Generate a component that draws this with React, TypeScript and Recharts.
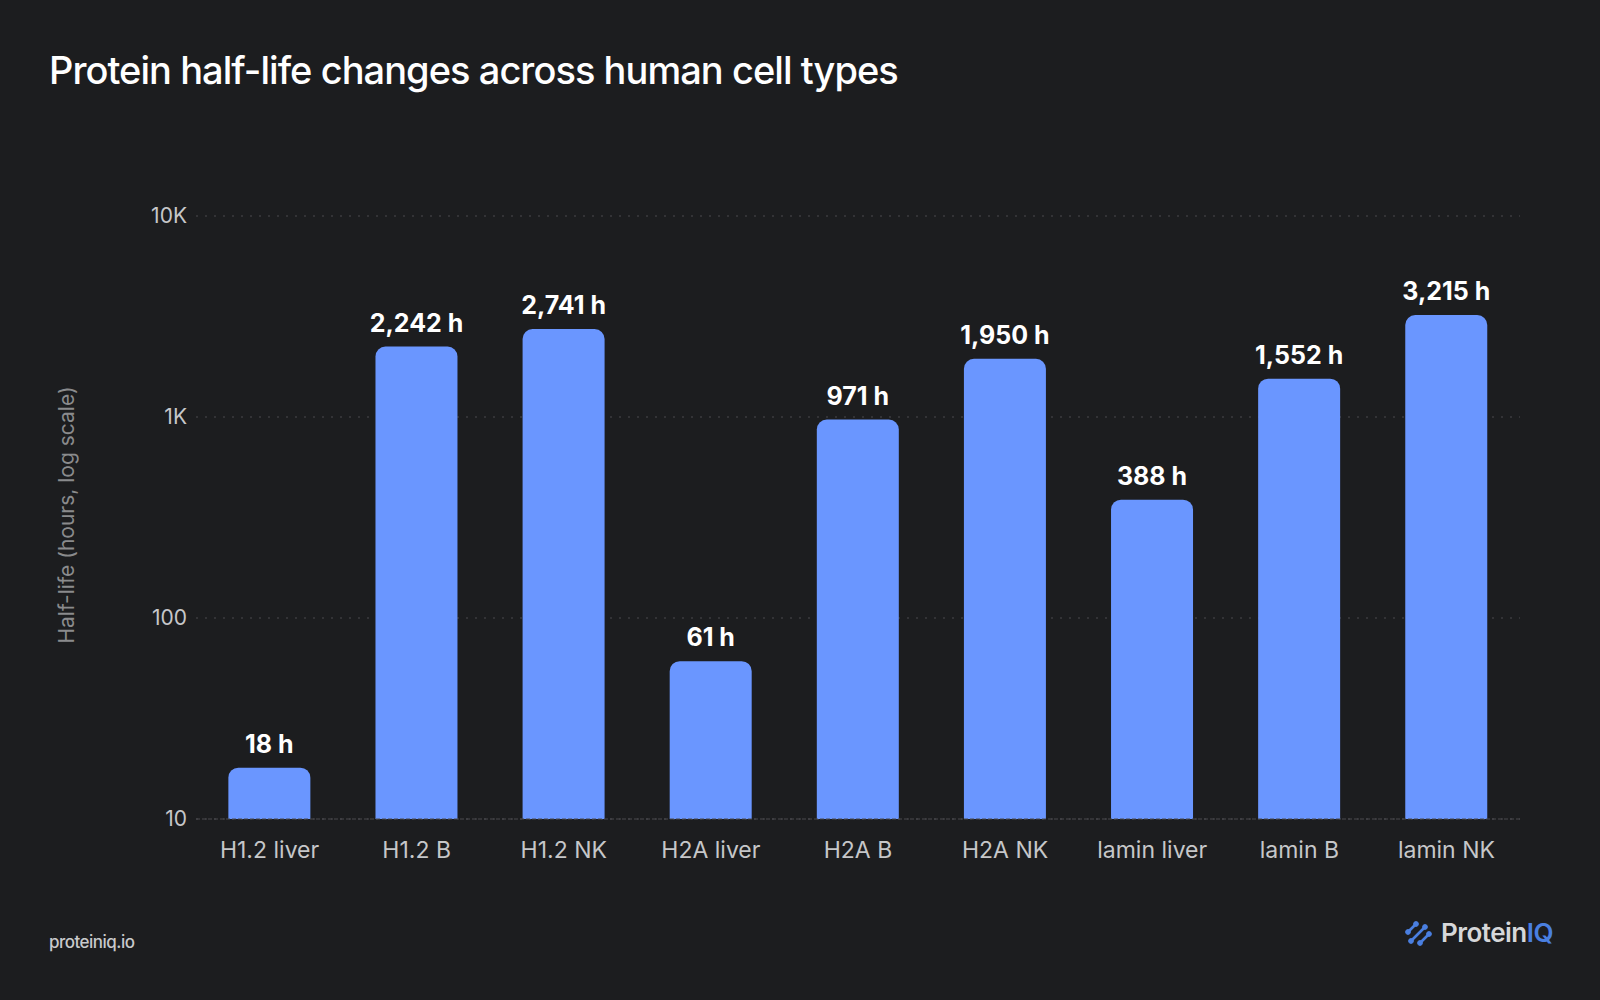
import React from 'react';
import { BarChart, Bar, XAxis, YAxis, CartesianGrid, LabelList } from 'recharts';

const categories = [
  'H1.2 liver',
  'H1.2 B',
  'H1.2 NK',
  'H2A liver',
  'H2A B',
  'H2A NK',
  'lamin liver',
  'lamin B',
  'lamin NK',
];

const halfLifeHours = [18, 2242, 2741, 61, 971, 1950, 388, 1552, 3215];

const yTicks = [10, 100, 1000, 10000];

const data = categories.map((name, i) => ({ name, value: halfLifeHours[i] }));

const FONT = 'Inter, "Noto Sans", sans-serif';
const BG = '#1c1d1f';
const BAR = '#6a96ff';

const formatTick = (v: number) => (v >= 1000 ? `${v / 1000}K` : `${v}`);
const formatValue = (v: number) => `${v.toLocaleString('en-US')} h`;

// small decorative mark next to the brand name
const LogoMark = () => (
  <svg width="28" height="28" viewBox="0 0 28 28">
    {[
      [3, 13, 11, 5],
      [6, 22, 20, 8],
      [15, 24, 24, 15],
    ].map(([x1, y1, x2, y2], i) => (
      <g key={i} stroke="#4a7fe0" fill="#4a7fe0">
        <line x1={x1} y1={y1} x2={x2} y2={y2} strokeWidth={2.6} strokeLinecap="round" />
        <circle cx={x1} cy={y1} r={2.4} />
        <circle cx={x2} cy={y2} r={2.4} />
      </g>
    ))}
  </svg>
);

export default function App() {
  return (
    <div
      style={{
        position: 'absolute',
        top: 0,
        left: 0,
        width: 1600,
        height: 1000,
        background: BG,
        fontFamily: FONT,
        overflow: 'hidden',
      }}
    >
      {/* Title */}
      <div
        style={{
          position: 'absolute',
          left: 49,
          top: 47,
          fontSize: 38,
          fontWeight: 500,
          letterSpacing: '-0.025em',
          color: '#ffffff',
          whiteSpace: 'nowrap',
        }}
      >
        Protein half-life changes across human cell types
      </div>

      {/* Y axis title */}
      <div
        style={{
          position: 'absolute',
          left: 66,
          top: 515,
          transform: 'translate(-50%, -50%) rotate(-90deg)',
          fontSize: 21,
          color: '#8a8b8d',
          whiteSpace: 'nowrap',
        }}
      >
        Half-life (hours, log scale)
      </div>

      <div style={{ position: 'absolute', left: 0, top: 0 }}>
        <BarChart
          width={1600}
          height={1000}
          data={data}
          margin={{ top: 216, right: 80, left: 0, bottom: 141 }}
          barCategoryGap="22%"
        >
          <CartesianGrid vertical={false} stroke="#4a4b4e" strokeDasharray="2 7" />
          <XAxis
            dataKey="name"
            height={40}
            tickLine={false}
            axisLine={{ stroke: '#4a4b4e', strokeDasharray: '4 2' }}
            tick={{ fill: '#c6c7c9', fontSize: 23, fontFamily: FONT }}
            tickMargin={17}
            interval={0}
          />
          <YAxis
            width={196}
            scale="log"
            domain={[10, 10000]}
            ticks={yTicks}
            allowDataOverflow
            tickFormatter={formatTick}
            tickLine={false}
            axisLine={false}
            tick={{ fill: '#c6c7c9', fontSize: 21, fontFamily: FONT }}
            tickMargin={3}
          />
          <Bar dataKey="value" fill={BAR} radius={[10, 10, 0, 0]} isAnimationActive={false}>
            <LabelList
              dataKey="value"
              position="top"
              offset={15}
              formatter={formatValue}
              fill="#ffffff"
              style={{ fontSize: 25, fontWeight: 700, fontFamily: FONT }}
            />
          </Bar>
        </BarChart>
      </div>

      {/* Footer */}
      <div
        style={{
          position: 'absolute',
          left: 49,
          top: 932,
          fontSize: 17,
          fontWeight: 500,
          color: '#c8c9cb',
          letterSpacing: '-0.03em',
        }}
      >
        proteiniq.io
      </div>

      <div
        style={{
          position: 'absolute',
          left: 1405,
          top: 917,
          display: 'flex',
          alignItems: 'center',
          gap: 8,
        }}
      >
        <LogoMark />
        <span style={{ fontSize: 26, fontWeight: 600, letterSpacing: '-0.02em', color: '#d6d7d9' }}>
          Protein<span style={{ color: '#4a7fe0' }}>IQ</span>
        </span>
      </div>
    </div>
  );
}
